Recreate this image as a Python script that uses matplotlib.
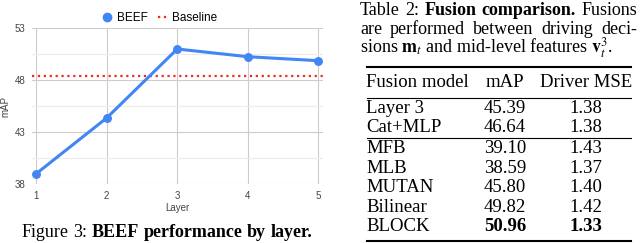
import matplotlib
matplotlib.use("Agg")
import matplotlib.pyplot as plt
from matplotlib.lines import Line2D

# chart data
layers = [1, 2, 3, 4, 5]
beef_map = [39.0, 44.35, 50.96, 50.22, 49.84]
baseline_map = 48.37
y_ticks = [38, 43, 48, 53]

# table data
fusion_models = ["Layer 3", "Cat+MLP", "MFB", "MLB", "MUTAN", "Bilinear", "BLOCK"]
fusion_map = ["45.39", "46.64", "39.10", "38.59", "45.80", "49.82", "50.96"]
fusion_mse = ["1.38", "1.38", "1.43", "1.37", "1.40", "1.42", "1.33"]
table_header = ["Fusion model", "mAP", "Driver MSE"]

W, H = 640, 243
BLUE = "#4285F4"
RED = "#F22B20"
SERIF = "Liberation Serif"
SANS = "Liberation Sans"
TSIZE = 13.5
plt.rcParams["mathtext.fontset"] = "stix"

fig = plt.figure(figsize=(W / 100, H / 100), dpi=100)


def fx(x):
    return x / W


def fy(y):
    return 1 - y / H


# --- chart ---
ax = fig.add_axes([fx(31.5), fy(184.3), (323 - 31.5) / W, (184.3 - 27.7) / H])
ax.plot(layers, beef_map, color=BLUE, lw=2.2, marker="o", markersize=5.4, zorder=3, clip_on=False)
ax.axhline(baseline_map, color=RED, lw=1.6, linestyle=":", zorder=2)
ax.set_xlim(0.936, 5.064)
ax.set_ylim(38, 53)
ax.set_xticks(layers)
ax.set_yticks(y_ticks)
ax.set_yticks([40.5, 45.5, 50.5], minor=True)
ax.grid(True, which="major", color="#cccccc", lw=0.8)
ax.grid(True, which="minor", axis="y", color="#ececec", lw=0.8)
ax.tick_params(which="both", length=0, labelsize=7, labelcolor="#444444", pad=4.6)
for lab in ax.get_xticklabels() + ax.get_yticklabels():
    lab.set_family(SANS)
for s in ax.spines.values():
    s.set_visible(False)
ax.set_axisbelow(True)

fig.text(fx(5.5), fy(106), "mAP", rotation=90, ha="center", va="center",
         fontsize=7, color="#444444", family=SANS)
fig.text(fx(177.5), fy(208), "Layer", ha="center", va="center",
         fontsize=7, color="#444444", family=SANS)

handles = [
    Line2D([], [], color=BLUE, marker="o", linestyle="none", markersize=6),
    Line2D([], [], color=RED, lw=1.6, linestyle=":"),
]
ax.legend(handles, ["BEEF", "Baseline"], loc="center", ncol=2, frameon=False,
          bbox_to_anchor=(fx(160), fy(18)), bbox_transform=fig.transFigure,
          prop={"family": SANS, "size": 8.5}, handlelength=0.8, handletextpad=0.4,
          columnspacing=0.9, borderpad=0)

# caption under the chart, mixed weights placed piece by piece
renderer = fig.canvas.get_renderer()


def place_words(words, x0, y, size, width=None, space=None):
    texts = []
    for s, w in words:
        t = fig.text(fx(x0), fy(y), s, fontsize=size, family=SERIF, weight=w,
                     va="baseline", ha="left")
        texts.append(t)
    widths = [t.get_window_extent(renderer).width for t in texts]
    if width is not None and len(texts) > 1:
        gap = (width - sum(widths)) / (len(texts) - 1)
    else:
        gap = space if space is not None else size * 0.25 * 100 / 72
    x = x0
    for t, wd in zip(texts, widths):
        t.set_x(fx(x))
        x += wd + gap


place_words([("Figure", "normal"), ("3:", "normal"), ("BEEF", "bold"),
             ("performance", "bold"), ("by", "bold"), ("layer.", "bold")],
            21.7, 236.7, 13)

# --- table caption (justified lines) ---
TX0, TX1 = 360, 637
place_words([("Table", "normal"), ("2:", "normal"), ("Fusion", "bold"),
             ("comparison.", "bold"), ("Fusions", "normal")],
            TX0, 15, 13, width=TX1 - TX0)
place_words([("are", "normal"), ("performed", "normal"), ("between", "normal"),
             ("driving", "normal"), ("deci-", "normal")],
            TX0, 34, 13, width=TX1 - TX0)
fig.text(fx(TX0), fy(53), r"sions $\mathbf{m}_t$ and mid-level features $\mathbf{v}_t^3$.",
         fontsize=13, family=SERIF, va="baseline", ha="left")

# --- table body ---
RX0, RX1 = 366.5, 631
col_left = 366.5
col_map = 505
col_mse = 586


def rule(y, lw):
    fig.add_artist(Line2D([fx(RX0), fx(RX1)], [fy(y), fy(y)], color="black", lw=lw,
                          transform=fig.transFigure))


rule(66.5, 1.5)
rule(98.3, 0.8)
rule(138, 0.8)
rule(241, 1.5)

fig.text(fx(col_left), fy(87), table_header[0], fontsize=TSIZE, family=SERIF, va="baseline")
fig.text(fx(col_map), fy(87), table_header[1], fontsize=TSIZE, family=SERIF, va="baseline", ha="center")
fig.text(fx(col_mse), fy(87), table_header[2], fontsize=TSIZE, family=SERIF, va="baseline", ha="center")

row_y = [112.5, 132, 153, 172.5, 192, 211.5, 231]
for i, (name, m, e) in enumerate(zip(fusion_models, fusion_map, fusion_mse)):
    best = i == len(fusion_models) - 1
    w = "bold" if best else "normal"
    fig.text(fx(col_left), fy(row_y[i]), name, fontsize=TSIZE, family=SERIF, va="baseline")
    fig.text(fx(col_map), fy(row_y[i]), m, fontsize=TSIZE, family=SERIF, va="baseline",
             ha="center", weight=w)
    fig.text(fx(col_mse), fy(row_y[i]), e, fontsize=TSIZE, family=SERIF, va="baseline",
             ha="center", weight=w)

fig.savefig("out.png", dpi=100)
